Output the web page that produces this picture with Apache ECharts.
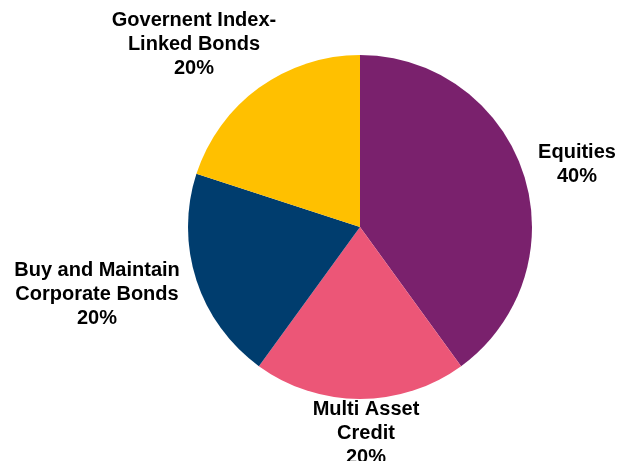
<!DOCTYPE html>
<html>
<head>
<meta charset="utf-8">
<script src="https://cdn.jsdelivr.net/npm/echarts@6/dist/echarts.min.js"></script>
<style>html,body{margin:0;padding:0;background:#fff}#c{width:619px;height:461px}</style>
</head>
<body>
<div id="c"></div>
<script>
const categories = ["Equities", "Multi Asset\nCredit", "Buy and Maintain\nCorporate Bonds", "Governent Index-\nLinked Bonds"];
const values = [40, 20, 20, 20];
const colors = ["#7A216D", "#EC5677", "#003D6E", "#FFC000"];
const labelPos = [[577, 164], [366, 433], [97, 294], [194, 44]];

const chart = echarts.init(document.getElementById('c'));
chart.setOption({
  animation: false,
  series: [{
    type: 'pie',
    center: [360, 227],
    radius: 172,
    startAngle: 90,
    clockwise: true,
    data: categories.map((n, i) => ({ name: n, value: values[i], itemStyle: { color: colors[i] } })),
    label: {
      show: true,
      position: 'outside',
      formatter: p => p.name + '\n' + p.value + '%',
      fontFamily: 'Liberation Sans, Arial, sans-serif',
      fontWeight: 'bold',
      fontSize: 20,
      lineHeight: 24,
      color: '#000',
      align: 'center',
      overflow: 'none',
      width: 300
    },
    labelLine: { show: false },
    labelLayout: p => ({ x: labelPos[p.dataIndex][0], y: labelPos[p.dataIndex][1], align: 'center', verticalAlign: 'middle', hideOverlap: false })
  }]
});
</script>
</body>
</html>
